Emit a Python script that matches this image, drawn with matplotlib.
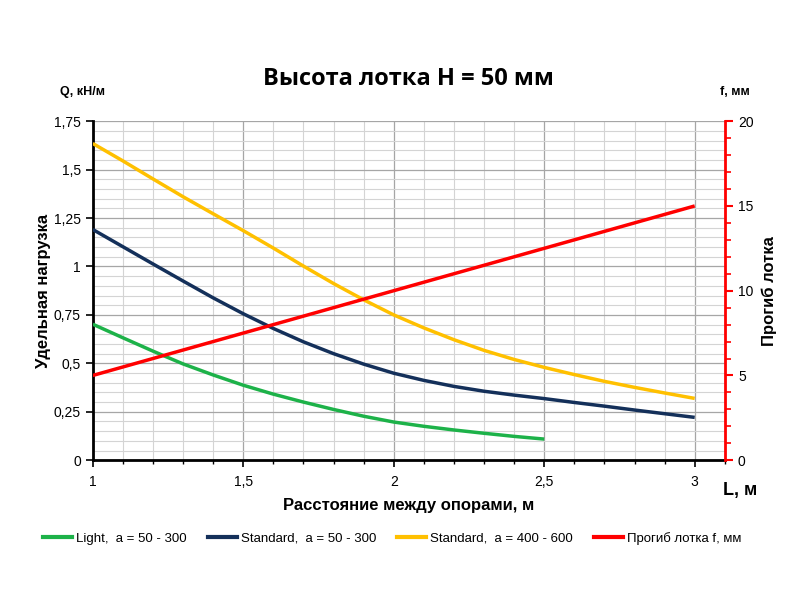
import matplotlib
matplotlib.use("Agg")
import matplotlib.pyplot as plt
from matplotlib.ticker import MultipleLocator, FuncFormatter
from matplotlib.lines import Line2D

# data
L = [1.0, 1.1, 1.2, 1.3, 1.4, 1.5, 1.6, 1.7, 1.8, 1.9, 2.0,
     2.1, 2.2, 2.3, 2.4, 2.5, 2.6, 2.7, 2.8, 2.9, 3.0]
light = [0.702, 0.632, 0.563, 0.497, 0.440, 0.387, 0.341, 0.300, 0.262, 0.227, 0.197,
         0.175, 0.156, 0.139, 0.123, 0.109]
std_50_300 = [1.191, 1.102, 1.013, 0.925, 0.838, 0.756, 0.680, 0.611, 0.550, 0.496, 0.449,
              0.412, 0.381, 0.356, 0.336, 0.318, 0.298, 0.279, 0.259, 0.240, 0.221]
std_400_600 = [1.635, 1.545, 1.452, 1.360, 1.272, 1.185, 1.095, 1.002, 0.912, 0.828, 0.750,
               0.683, 0.622, 0.567, 0.520, 0.479, 0.442, 0.407, 0.376, 0.347, 0.319]
L_f = [1.0, 1.5, 2.0, 2.5, 3.0]
deflection = [5.0, 7.5, 10.0, 12.5, 15.0]

names = ["Light,  a = 50 - 300", "Standard,  a = 50 - 300",
         "Standard,  a = 400 - 600", "Прогиб лотка f, мм"]
colors = ["#1db249", "#14305a", "#ffc000", "#ff0000"]

plt.rcParams['font.family'] = ['Liberation Sans', 'DejaVu Sans']

fig = plt.figure(figsize=(8, 6), dpi=100)
ax = fig.add_axes([0.116, 0.233, 0.790, 0.565])
ax2 = ax.twinx()

ax.plot(L[:len(light)], light, color=colors[0], lw=2.5, zorder=3, solid_capstyle='butt')
ax.plot(L, std_50_300, color=colors[1], lw=2.5, zorder=3, solid_capstyle='butt')
ax.plot(L, std_400_600, color=colors[2], lw=2.5, zorder=3, solid_capstyle='butt')
ax2.plot(L_f, deflection, color=colors[3], lw=2.5, zorder=3, solid_capstyle='butt')

ax.set_xlim(1, 3.1)
ax.set_ylim(0, 1.75)
ax2.set_ylim(0, 20)

comma = FuncFormatter(lambda v, p: ("%g" % round(v, 3)).replace(".", ","))
ax.xaxis.set_major_locator(MultipleLocator(0.5))
ax.xaxis.set_minor_locator(MultipleLocator(0.1))
ax.yaxis.set_major_locator(MultipleLocator(0.25))
ax.yaxis.set_minor_locator(MultipleLocator(0.05))
ax.xaxis.set_major_formatter(comma)
ax.yaxis.set_major_formatter(comma)
ax2.yaxis.set_major_locator(MultipleLocator(5))
ax2.yaxis.set_minor_locator(MultipleLocator(1))

ax.grid(which='major', color='#a6a6a6', lw=0.9)
ax.grid(which='minor', color='#d4d4d4', lw=0.8)
ax.set_axisbelow(True)

ax.spines['top'].set_visible(False)
ax2.spines['top'].set_visible(False)
ax2.spines['left'].set_visible(False)
ax2.spines['bottom'].set_visible(False)
ax.spines['right'].set_visible(False)
ax.spines['left'].set_linewidth(2)
ax.spines['bottom'].set_linewidth(2)
ax2.spines['right'].set_color('#ff0000')
ax2.spines['right'].set_linewidth(2)

ax.tick_params(axis='x', which='major', length=5, width=1.2, pad=6, labelsize=10)
ax.tick_params(axis='x', which='minor', length=3, width=1)
ax.tick_params(axis='y', which='major', length=5, width=1.2, labelsize=10)
ax.tick_params(axis='y', which='minor', length=0)
ax2.tick_params(axis='y', which='major', length=6, width=1.5, color='#ff0000', labelsize=10)
ax2.tick_params(axis='y', which='minor', length=4, width=1.2, color='#ff0000')

ax.set_ylabel("Удельная нагрузка", fontsize=12, fontweight='bold', labelpad=2)
ax2.set_ylabel("Прогиб лотка", fontsize=12, fontweight='bold', labelpad=6)
ax.set_xlabel("Расстояние между опорами, м", fontsize=12, fontweight='bold', labelpad=6)

fig.text(0.51, 0.868, "Высота лотка H = 50 мм", fontsize=17, fontweight='bold',
         ha='center', va='center', family=['Open Sans', 'DejaVu Sans'])
fig.text(0.103, 0.847, "Q, кН/м", fontsize=9, fontweight='bold', ha='center', va='center')
fig.text(0.918, 0.847, "f, мм", fontsize=9, fontweight='bold', ha='center', va='center')
fig.text(0.925, 0.183, "L, м", fontsize=13, fontweight='bold', ha='center', va='center')

handles = [Line2D([0], [0], color=c, lw=3) for c in colors]
fig.legend(handles, names, loc='center', bbox_to_anchor=(0.49, 0.103), ncol=4,
           frameon=False, fontsize=9.5, handlelength=2.2, handletextpad=0.3,
           columnspacing=1.6)

fig.savefig("out.png", dpi=100)
